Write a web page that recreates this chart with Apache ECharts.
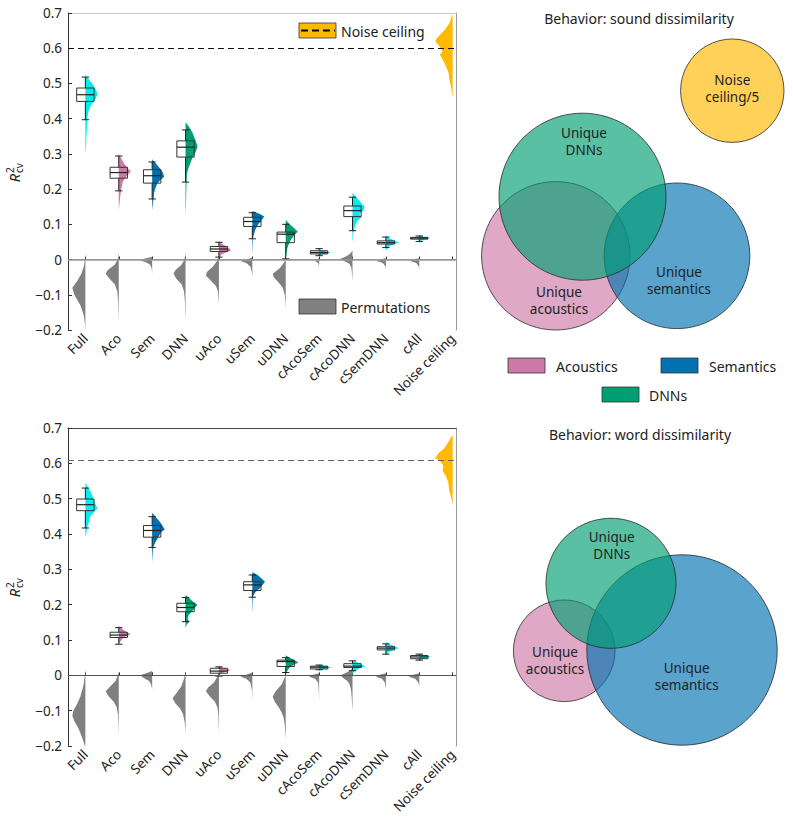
<!DOCTYPE html>
<html><head><meta charset="utf-8">
<script src="https://cdn.jsdelivr.net/npm/echarts@6/dist/echarts.min.js"></script>
<style>html,body{margin:0;padding:0;background:#fff}#c{width:793px;height:821px}</style>
</head><body><div id="c"></div>
<script>
// ---------------- data ----------------
const categories = ['Full','Aco','Sem','DNN','uAco','uSem','uDNN','cAcoSem','cAcoDNN','cSemDNN','cAll','Noise ceiling'];
const categoryTicks = [0,1,2,3,4,5,6,7,8,9,10,11];
const yTickValues = [-0.2,-0.1,0,0.1,0.2,0.3,0.4,0.5,0.6,0.7];
const violinColorKeys = ['cyan','pink','blue','green','pink','blue','green','cyan','cyan','cyan','cyan','orange'];
const NOISE_INDEX = 11;
const noiseCeilingTop = 0.605;
const noiseCeilingBottom = 0.606;

// box stats: [whiskerLow, q1, median, q3, whiskerHigh]
const topBoxes = [
  [0.397,0.449,0.468,0.487,0.518],
  [0.195,0.231,0.247,0.262,0.294],
  [0.172,0.217,0.238,0.255,0.277],
  [0.220,0.291,0.319,0.337,0.368],
  [0.007,0.023,0.030,0.037,0.049],
  [0.059,0.094,0.108,0.120,0.133],
  [0.002,0.048,0.072,0.078,0.100],
  [0.011,0.016,0.020,0.025,0.031],
  [0.082,0.122,0.139,0.152,0.177],
  [0.034,0.044,0.048,0.053,0.064],
  [0.051,0.058,0.061,0.063,0.067],
  null
];
const bottomBoxes = [
  [0.417,0.466,0.483,0.499,0.530],
  [0.088,0.107,0.114,0.122,0.135],
  [0.362,0.391,0.410,0.424,0.449],
  [0.152,0.180,0.192,0.204,0.220],
  [-0.002,0.006,0.012,0.020,0.024],
  [0.221,0.240,0.256,0.265,0.284],
  [0.008,0.025,0.039,0.043,0.050],
  [0.016,0.018,0.023,0.026,0.029],
  [0.013,0.022,0.026,0.033,0.041],
  [0.060,0.072,0.077,0.081,0.089],
  [0.043,0.047,0.052,0.056,0.060],
  null
];

// violin profiles: [value, density]
const topModelViolins = [
  [[0.525,0],[0.51,4],[0.495,8],[0.48,11],[0.468,12],[0.455,10],[0.44,6],[0.42,3],[0.40,2],[0.37,1.5],[0.35,1],[0.32,0.7],[0.30,0]],
  [[0.30,0],[0.285,3],[0.27,6],[0.26,9],[0.25,12],[0.24,9],[0.23,6],[0.22,4],[0.20,2.5],[0.18,1.5],[0.16,0.8],[0.14,0]],
  [[0.285,0],[0.275,3],[0.265,6],[0.255,9],[0.245,11],[0.235,12],[0.225,8],[0.215,5],[0.20,3],[0.19,2],[0.175,1.5],[0.16,0.8],[0.14,0]],
  [[0.39,0],[0.375,4],[0.36,7],[0.345,9],[0.33,11],[0.32,12],[0.305,10],[0.29,7],[0.275,5],[0.26,3],[0.245,1.5],[0.22,1],[0.19,0.7],[0.16,0.5],[0.13,0]],
  [[0.052,0],[0.045,3],[0.038,7],[0.03,11],[0.025,12],[0.02,7],[0.015,3],[0.01,1],[0.005,0]],
  [[0.138,0],[0.13,7],[0.122,12],[0.115,10],[0.105,7],[0.095,5],[0.085,3],[0.075,2],[0.065,1],[0.05,0.5],[0.03,0.3],[0.01,0]],
  [[0.112,0],[0.10,4],[0.09,8],[0.08,12],[0.07,9],[0.06,6],[0.05,4],[0.04,2.5],[0.03,1.5],[0.015,0.8],[0,0]],
  [[0.03,0],[0.025,4],[0.02,12],[0.016,5],[0.012,1],[0.008,0]],
  [[0.19,0],[0.18,3],[0.17,6],[0.16,9],[0.15,12],[0.14,11],[0.13,7],[0.12,9],[0.11,5],[0.10,3],[0.09,2],[0.075,1],[0.06,0.5],[0.05,0]],
  [[0.068,0],[0.06,4],[0.053,10],[0.048,13],[0.043,7],[0.038,3],[0.03,1],[0.025,0]],
  [[0.07,0],[0.065,4],[0.061,11],[0.057,5],[0.052,1.5],[0.048,0]],
  [[0.698,0],[0.671,3.3],[0.652,8],[0.628,16],[0.619,17.3],[0.605,13],[0.591,10],[0.582,12.7],[0.568,10],[0.549,6.7],[0.53,4],[0.511,3.3],[0.493,1.7],[0.458,0]]
];
const topPermViolins = [
  [[0.02,0],[0,0.5],[-0.02,1.5],[-0.04,4],[-0.06,8],[-0.08,13],[-0.10,11],[-0.115,8],[-0.13,5],[-0.145,3],[-0.16,1.5],[-0.18,0.5],[-0.2,0]],
  [[0.02,0],[0,1],[-0.015,4],[-0.03,11],[-0.04,13],[-0.055,9],[-0.07,4],[-0.09,1.5],[-0.12,0.6],[-0.15,0.3],[-0.18,0]],
  [[0.008,0],[0.002,8],[-0.003,12],[-0.008,6],[-0.015,2],[-0.025,0.5],[-0.04,0]],
  [[0.02,0],[0,1],[-0.015,4],[-0.03,10],[-0.04,12],[-0.055,9],[-0.07,4],[-0.09,1.5],[-0.12,0.6],[-0.15,0.3],[-0.17,0]],
  [[0.01,0],[-0.005,2],[-0.02,6],[-0.035,12],[-0.045,13],[-0.06,8],[-0.075,3],[-0.09,1],[-0.11,0.4],[-0.13,0]],
  [[0.006,0],[0.001,5],[-0.004,12],[-0.01,6],[-0.02,2],[-0.035,0.5],[-0.05,0]],
  [[0,0],[-0.01,2],[-0.025,6],[-0.04,13],[-0.05,12],[-0.065,7],[-0.08,3],[-0.1,1],[-0.12,0.4],[-0.14,0]],
  [[0.004,0],[0,3],[-0.004,4],[-0.01,1],[-0.02,0]],
  [[0.025,0],[0.015,3],[0.008,7],[0.002,12],[-0.005,8],[-0.012,3],[-0.025,1],[-0.045,0.4],[-0.06,0]],
  [[0.004,0],[0,7],[-0.004,9],[-0.01,3],[-0.02,0.5],[-0.03,0]],
  [[0.004,0],[0,7],[-0.004,9],[-0.01,3],[-0.02,0.5],[-0.03,0]],
  []
];
const bottomModelViolins = [
  [[0.545,0],[0.53,3],[0.515,6],[0.50,8],[0.485,10],[0.472,12],[0.46,8],[0.45,5],[0.44,4],[0.43,3],[0.42,2],[0.41,1.5],[0.40,0.8],[0.39,0]],
  [[0.14,0],[0.132,3],[0.124,7],[0.116,12],[0.11,7],[0.104,4],[0.097,2],[0.09,0.5],[0.085,0]],
  [[0.46,0],[0.45,3],[0.44,6],[0.43,9],[0.42,11],[0.413,12.7],[0.405,9],[0.395,7],[0.385,5],[0.375,3],[0.365,1.5],[0.355,0.8],[0.34,0.5],[0.32,0]],
  [[0.228,0],[0.22,3],[0.21,7],[0.2,12],[0.19,9],[0.18,6],[0.17,3],[0.16,2],[0.152,4],[0.145,1.5],[0.135,0]],
  [[0.026,0],[0.02,4],[0.015,12],[0.01,6],[0.005,2],[0,0]],
  [[0.292,0],[0.285,5],[0.275,9],[0.265,12.7],[0.255,10],[0.245,7],[0.235,3],[0.225,1],[0.21,0.5],[0.19,0.3],[0.18,0]],
  [[0.057,0],[0.05,4],[0.043,9],[0.036,12.7],[0.03,8],[0.022,4],[0.015,2],[0.008,1],[0,0]],
  [[0.032,0],[0.027,4],[0.022,12.7],[0.018,5],[0.014,1],[0.01,0]],
  [[0.043,0],[0.037,4],[0.031,9],[0.026,12.7],[0.02,7],[0.014,3],[0.008,1],[0.004,0]],
  [[0.094,0],[0.088,4],[0.082,9],[0.077,13],[0.072,7],[0.066,3],[0.06,1],[0.055,0]],
  [[0.062,0],[0.058,4],[0.053,12],[0.048,5],[0.044,1],[0.04,0]],
  [[0.681,0],[0.662,4],[0.643,8.3],[0.629,14],[0.615,17.3],[0.604,11.7],[0.592,9.3],[0.578,10],[0.564,6.7],[0.545,4.3],[0.521,3.3],[0.507,1.7],[0.483,0]]
];
const bottomPermViolins = [
  [[0.02,0],[0,0.5],[-0.03,2],[-0.06,5],[-0.08,8],[-0.1,12],[-0.115,13],[-0.13,11],[-0.15,7],[-0.17,4],[-0.19,1.5],[-0.2,0.5]],
  [[0.01,0],[0,1],[-0.015,3],[-0.03,8],[-0.045,13],[-0.06,10],[-0.075,5],[-0.09,2],[-0.11,0.8],[-0.14,0.3],[-0.17,0]],
  [[0.012,0],[0.006,6],[0,12],[-0.008,8],[-0.016,3],[-0.026,1],[-0.04,0]],
  [[0.01,0],[-0.01,1.5],[-0.03,4],[-0.05,9],[-0.065,13],[-0.08,10],[-0.095,5],[-0.11,2.5],[-0.13,1],[-0.15,0.3],[-0.17,0]],
  [[0.005,0],[-0.005,1.5],[-0.02,5],[-0.035,11],[-0.045,13],[-0.06,9],[-0.075,4],[-0.09,1.5],[-0.11,0.6],[-0.14,0.3],[-0.16,0]],
  [[0.008,0],[0.002,6],[-0.003,12],[-0.01,6],[-0.02,2],[-0.04,0.5],[-0.07,0]],
  [[0,0],[-0.01,1.5],[-0.025,4],[-0.045,10],[-0.06,13],[-0.075,11],[-0.09,7],[-0.105,4],[-0.12,2],[-0.14,1],[-0.16,0.5],[-0.18,0]],
  [[0.006,0],[0.001,7],[-0.004,10],[-0.01,4],[-0.02,1],[-0.04,0.4],[-0.07,0]],
  [[0.02,0],[0.012,3],[0.005,8],[0,12],[-0.008,9],[-0.016,5],[-0.025,3],[-0.04,1.5],[-0.06,0.8],[-0.09,0.3],[-0.1,0]],
  [[0.006,0],[0.001,7],[-0.004,10],[-0.01,4],[-0.02,1],[-0.04,0]],
  [[0.006,0],[0.001,7],[-0.004,10.7],[-0.01,4],[-0.02,1],[-0.03,0]],
  []
];

// Venn diagrams: [cx, cy, r] in venn-panel units
const vennTopCircles = [[262.3,90.7,51.7],[85.8,255.8,74.2],[207,255.8,72.8],[112.5,196.7,83.5]];
const vennTopColors = ['orange','pink','blue','green'];
const vennTopLabels = [['Noise','ceiling/5'],['Unique','DNNs'],['Unique','acoustics'],['Unique','semantics']];
const vennTopLabelPos = [[262.3,88],[114,141],[89,300],[209,280]];
const vennBottomCircles = [[94.2,240.8,50.8],[212,240,95.2],[141,173.3,65]];
const vennBottomColors = ['pink','blue','green'];
const vennBottomLabels = [['Unique','DNNs'],['Unique','acoustics'],['Unique','semantics']];
const vennBottomLabelPos = [[141.7,135],[85,250],[216.7,266.7]];

// ---------------- style ----------------
const FONT = '"Noto Sans", "DejaVu Sans", sans-serif';
const palette = {cyan:'#00EEEE', pink:'#CC79A7', blue:'#0072B2', green:'#009E73', orange:'#FFB900'};
const vennFill = {cyan:'rgba(0,238,238,0.65)', pink:'rgba(204,121,167,0.65)', blue:'rgba(0,114,178,0.65)', green:'rgba(0,158,115,0.65)', orange:'rgba(255,185,0,0.65)'};
const PERM_COLOR = '#808080';
const VIOLIN_SCALE = 0.03, BOX_HALF = 0.26, CAP_HALF = 0.11;
const X_MIN = -0.52, X_MAX = 11.1;
const TICK_FONT = 13.5, TEXT_FONT = 14, VENN_FONT = 13.5, VENN_LINE_GAP = 8.5;

function makeRender(modelViolins, permViolins, boxes) {
  return function (params, api) {
    const i = api.value(0);
    const children = [];
    const side = (profile, dir, fill) => {
      if (!profile || !profile.length) return;
      const pts = [api.coord([i, profile[0][0]])];
      profile.forEach(([v, d]) => pts.push(api.coord([i + dir * d * VIOLIN_SCALE, v])));
      pts.push(api.coord([i, profile[profile.length - 1][0]]));
      children.push({type:'polygon', shape:{points:pts}, style:{fill:fill, stroke:null}});
    };
    side(permViolins[i], -1, PERM_COLOR);
    side(modelViolins[i], i === NOISE_INDEX ? -1 : 1, palette[violinColorKeys[i]]);
    const b = boxes[i];
    if (b) {
      const [wl, q1, md, q3, wh] = b;
      const ln = (x1, y1, x2, y2, w) => {
        const a = api.coord([x1, y1]), c = api.coord([x2, y2]);
        children.push({type:'line', shape:{x1:a[0], y1:a[1], x2:c[0], y2:c[1]}, style:{stroke:'#222', lineWidth:w || 1}});
      };
      ln(i, wl, i, q1); ln(i, q3, i, wh);
      ln(i - CAP_HALF, wl, i + CAP_HALF, wl); ln(i - CAP_HALF, wh, i + CAP_HALF, wh);
      const p1 = api.coord([i - BOX_HALF, q3]), p2 = api.coord([i + BOX_HALF, q1]);
      children.push({type:'rect', shape:{x:p1[0], y:p1[1], width:p2[0]-p1[0], height:p2[1]-p1[1]}, style:{fill:'none', stroke:'#333', lineWidth:1}});
      ln(i - BOX_HALF, md, i + BOX_HALF, md, 1.2);
    }
    return {type:'group', children};
  };
}

const yFmt = v => { const s = String(Math.round(v * 10) / 10); return s.replace('-', '\u2212'); };
function mainX(gi) {
  return {type:'value', gridIndex:gi, min:X_MIN, max:X_MAX,
    axisLine:{show:true, lineStyle:{color:'#999', width:1}},
    axisTick:{show:true, inside:true, length:3, customValues:categoryTicks, lineStyle:{color:'#333'}},
    axisLabel:{show:true, customValues:categoryTicks, rotate:45, margin:6, fontSize:TICK_FONT, fontFamily:FONT, color:'#222',
      formatter: v => categories[Math.round(v)] || ''},
    splitLine:{show:false}};
}
function borderX(gi, color) {
  return {type:'value', gridIndex:gi, position:'top', min:X_MIN, max:X_MAX,
    axisLine:{show:true, onZero:false, lineStyle:{color:color, width:1}}, axisTick:{show:false}, axisLabel:{show:false}, splitLine:{show:false}};
}
function mainY(gi) {
  return {type:'value', gridIndex:gi, min:-0.2, max:0.7, interval:0.1,
    axisLine:{show:true, onZero:false, lineStyle:{color:'#333', width:1}},
    axisTick:{show:true, inside:true, length:4, lineStyle:{color:'#333'}},
    axisLabel:{fontSize:TICK_FONT, fontFamily:FONT, color:'#222', margin:6, formatter:yFmt},
    splitLine:{show:false}};
}
function borderY(gi) {
  return {type:'value', gridIndex:gi, position:'right', min:-0.2, max:0.7,
    axisLine:{show:true, onZero:false, lineStyle:{color:'#999', width:1}}, axisTick:{show:false}, axisLabel:{show:false}, splitLine:{show:false}};
}
const hiddenAxis = (gi, max, inv) => ({type:'value', gridIndex:gi, min:0, max:max, inverse:!!inv, show:false});

function vennSeries(ai, circles, colors, labels, labelPos) {
  return [{
    type:'custom', xAxisIndex:ai, yAxisIndex:ai, silent:true, data:circles,
    renderItem:(p, api) => {
      const c = api.coord([api.value(0), api.value(1)]);
      const r = api.size([api.value(2), 0])[0];
      return {type:'circle', shape:{cx:c[0], cy:c[1], r:r}, style:{fill:vennFill[colors[p.dataIndex]], stroke:'#2a2a2a', lineWidth:0.8}};
    }
  }, {
    type:'custom', xAxisIndex:ai, yAxisIndex:ai, silent:true, data:labelPos, z:5,
    renderItem:(p, api) => {
      const c = api.coord([api.value(0), api.value(1)]);
      const lines = labels[p.dataIndex];
      return {type:'group', children: lines.map((s, k) => ({type:'text', x:c[0], y:c[1] + (k === 0 ? -VENN_LINE_GAP : VENN_LINE_GAP),
        style:{text:s, align:'center', verticalAlign:'middle', textAlign:'center', textVerticalAlign:'middle',
          fontSize:VENN_FONT, fontFamily:FONT, fill:'#222'}}))};
    }
  }];
}

function yName(x, y) {
  return {type:'group', x:x, y:y, rotation:Math.PI/2, silent:true, children:[
    {type:'text', x:0, y:0, style:{text:'R', fontSize:14.5, fontStyle:'italic', fontFamily:FONT, fill:'#222', align:'right', verticalAlign:'middle', textAlign:'right', textVerticalAlign:'middle'}},
    {type:'text', x:1, y:-4.5, style:{text:'2', fontSize:10, fontFamily:FONT, fill:'#222', align:'left', verticalAlign:'middle', textAlign:'left', textVerticalAlign:'middle'}},
    {type:'text', x:1, y:4.5, style:{text:'cv', fontSize:10, fontFamily:FONT, fill:'#222', align:'left', verticalAlign:'middle', textAlign:'left', textVerticalAlign:'middle'}}
  ]};
}
const txt = (x, y, s, align) => ({type:'text', x:x, y:y, silent:true, style:{text:s, fontSize:TEXT_FONT, fontFamily:FONT, fill:'#222',
  align:align||'left', verticalAlign:'middle', textAlign:align||'left', textVerticalAlign:'middle'}});
const box = (x, y, w, h, fill) => ({type:'rect', silent:true, shape:{x:x, y:y, width:w, height:h}, style:{fill:fill, stroke:'#333', lineWidth:0.8}});

const chart = echarts.init(document.getElementById('c'), null, {renderer:'svg', width:793, height:821});
chart.setOption({
  animation:false,
  backgroundColor:'#fff',
  grid:[
    {left:68, top:13, width:388, height:317},
    {left:68, top:428, width:388, height:318},
    {left:470, top:0, width:323, height:410},
    {left:470, top:410, width:323, height:410}
  ],
  xAxis:[mainX(0), mainX(1), borderX(0,'#ccc'), borderX(1,'#444'), hiddenAxis(2,323), hiddenAxis(3,323)],
  yAxis:[mainY(0), mainY(1), borderY(0), borderY(1), hiddenAxis(2,410,true), hiddenAxis(3,410,true)],
  series:[
    {type:'custom', name:'sound', xAxisIndex:0, yAxisIndex:0, silent:true, data:categories.map((c,i)=>[i]),
      renderItem:makeRender(topModelViolins, topPermViolins, topBoxes),
      markLine:{silent:true, symbol:'none', label:{show:false}, data:[
        {yAxis:0, lineStyle:{color:'#999', width:1.5, type:'solid'}},
        {yAxis:noiseCeilingTop, lineStyle:{color:'#111', width:1.1, type:[6,4]}}
      ]}},
    {type:'custom', name:'word', xAxisIndex:1, yAxisIndex:1, silent:true, data:categories.map((c,i)=>[i]),
      renderItem:makeRender(bottomModelViolins, bottomPermViolins, bottomBoxes),
      markLine:{silent:true, symbol:'none', label:{show:false}, data:[
        {yAxis:0, lineStyle:{color:'#555', width:1, type:'solid'}},
        {yAxis:noiseCeilingBottom, lineStyle:{color:'#666', width:1, type:[6,4]}}
      ]}},
    ...vennSeries(4, vennTopCircles, vennTopColors, vennTopLabels, vennTopLabelPos),
    ...vennSeries(5, vennBottomCircles, vennBottomColors, vennBottomLabels, vennBottomLabelPos)
  ],
  graphic:[
    yName(14, 174),
    yName(14, 589),
    box(299, 23, 37, 15, palette.orange),
    {type:'line', silent:true, shape:{x1:301, y1:30.5, x2:335, y2:30.5}, style:{stroke:'#000', lineWidth:2, lineDash:[7,4]}},
    txt(341, 31, 'Noise ceiling'),
    box(299, 299, 37, 15, PERM_COLOR),
    txt(341, 307, 'Permutations'),
    txt(639, 18, 'Behavior: sound dissimilarity', 'center'),
    txt(640, 434, 'Behavior: word dissimilarity', 'center'),
    box(508, 358, 37, 15, palette.pink),
    txt(556, 366, 'Acoustics'),
    box(661, 358, 37, 15, palette.blue),
    txt(709, 366, 'Semantics'),
    box(602, 387, 37, 15, palette.green),
    txt(649, 395, 'DNNs')
  ]
});
</script>
</body></html>
